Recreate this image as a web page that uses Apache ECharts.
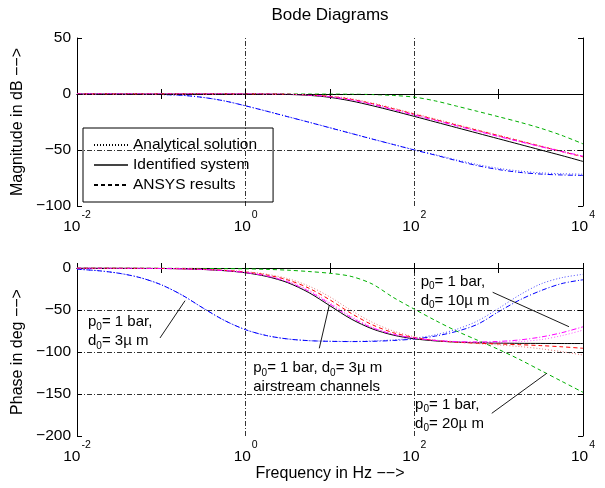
<!DOCTYPE html>
<html>
<head>
<meta charset="utf-8">
<script src="https://cdn.jsdelivr.net/npm/echarts@6/dist/echarts.min.js"></script>
<style>html,body{margin:0;padding:0;background:#fff}#chart{width:605px;height:488px}</style>
</head>
<body>
<div id="chart"></div>
<script>
// frequencies in Hz (quarter-decade steps)
var freq = [0.01, 0.0178, 0.0316, 0.0562, 0.1, 0.178, 0.316, 0.562, 1, 1.78, 3.16, 5.62, 10, 17.8, 31.6, 56.2, 100, 178, 316, 562, 1000, 1780, 3160, 5620, 10000];

// magnitude in dB
var magBlueDot  = [0, 0, -0.1, -0.3, -0.5, -1.2, -3.1, -6.2, -10.6, -15.3, -20.2, -25.1, -30.1, -35.1, -40.1, -45.0, -49.8, -54.2, -58.8, -63.0, -66.4, -68.8, -70.4, -71.2, -71.6];
var magBlueDash = [0, 0, -0.1, -0.3, -0.5, -1.2, -3.1, -6.2, -10.6, -15.4, -20.3, -25.2, -30.2, -35.2, -40.2, -45.1, -50.0, -54.6, -59.5, -64.0, -67.5, -70.0, -71.5, -72.3, -72.7];
var magGreen    = [0, 0, 0, 0, 0, 0, 0, 0, 0, 0, 0, -0.05, -0.1, -0.2, -0.5, -1.3, -2.8, -6.2, -10.8, -15.5, -20.3, -25.2, -30.6, -37.0, -44.5];
var magBlack    = [0, 0, 0, 0, 0, 0, 0, -0.01, -0.04, -0.14, -0.4, -1.2, -3.0, -6.2, -10.4, -15.1, -20.0, -25.0, -30.0, -35.0, -40.0, -45.0, -50.0, -55.0, -60.2];
var magRedDash  = [0, 0, 0, 0, 0, 0, 0, 0, -0.02, -0.08, -0.25, -0.8, -2.1, -4.7, -8.6, -13.2, -18.0, -22.9, -27.7, -32.5, -37.2, -42.0, -46.7, -51.4, -56.1];
var magRedDot   = [0, 0, 0, 0, 0, 0, 0, 0, -0.02, -0.06, -0.2, -0.6, -1.8, -4.2, -8.0, -12.6, -17.4, -22.3, -27.2, -32.0, -36.8, -41.6, -46.3, -51.0, -55.7];
var magMagDash  = [0, 0, 0, 0, 0, 0, 0, 0, -0.03, -0.1, -0.3, -0.95, -2.5, -5.3, -9.3, -14.0, -18.8, -23.6, -28.4, -33.2, -37.9, -42.5, -47.0, -51.3, -55.5];
var magMagDot   = [0, 0, 0, 0, 0, 0, 0, 0, -0.03, -0.1, -0.3, -0.9, -2.4, -5.1, -9.1, -13.8, -18.6, -23.5, -28.3, -33.1, -37.9, -42.6, -47.2, -51.7, -56.0];

// phase in degrees
var phBlueDot  = [-1.5, -3.2, -6.3, -11.5, -20, -32.5, -48, -62.5, -73.5, -80.5, -84.5, -86.5, -87.2, -87.4, -86.9, -85.6, -83.5, -79.5, -73, -63, -48, -32, -19, -11.5, -7.5];
var phBlueDash = [-1.5, -3.2, -6.3, -11.5, -20, -32.5, -48, -62.5, -73.5, -80.5, -84.5, -86.5, -87.3, -87.6, -87.3, -86.3, -84.5, -81, -75.5, -67, -52, -38, -27, -18.5, -14];
var phGreen    = [0, 0, -0.05, -0.1, -0.15, -0.3, -0.5, -0.7, -1.0, -1.6, -2.6, -4.2, -6.3, -10, -19, -35, -49, -62.5, -75, -86, -97, -109, -122, -135, -148];
var phBlack    = [-0.06, -0.1, -0.18, -0.32, -0.57, -1.0, -1.8, -3.2, -5.7, -10.1, -17.5, -29.3, -45, -60.7, -72.4, -79.9, -84.3, -86.8, -88.2, -89.0, -89.4, -89.7, -89.8, -89.9, -89.9];
var phRedDash  = [-0.05, -0.09, -0.16, -0.28, -0.5, -0.9, -1.6, -2.8, -4.8, -8.3, -14.2, -24, -38, -54, -67.5, -77, -82.8, -86.3, -88.3, -89.5, -90.4, -91.3, -92.4, -93.8, -95.6];
var phRedDot   = [-0.05, -0.08, -0.14, -0.25, -0.45, -0.8, -1.4, -2.5, -4.3, -7.4, -12.6, -21.5, -34.5, -50.5, -64.5, -75, -81.8, -85.8, -88.3, -90, -91.6, -93.5, -96.2, -99.6, -103.6];
var phMagDash  = [-0.06, -0.1, -0.18, -0.32, -0.56, -1.0, -1.8, -3.1, -5.5, -9.6, -16.6, -27.8, -43, -59, -71.2, -79, -83.5, -86.2, -87.6, -88, -87.4, -85.6, -82.2, -77, -70];
var phMagDot   = [-0.06, -0.1, -0.17, -0.3, -0.53, -0.95, -1.7, -3.0, -5.2, -9.1, -15.8, -26.5, -41.5, -57.5, -70.3, -78.5, -83.3, -86.2, -87.8, -88.6, -88.6, -87.6, -85.3, -80.5, -74];

var legendNames = ['Analytical solution', 'Identified system', 'ANSYS results'];
var magGrid = [0, -50];
var phaseGrid = [-50, -100, -150];
var freqGrid = [1, 100];

var ff = '"Liberation Sans", Arial, Helvetica, sans-serif';
var DOT = [1, 2], DASH = [4, 3], DASHDOT = [5, 2, 1, 2];

var chart = echarts.init(document.getElementById('chart'));

function curve(y, color, dash, g) {
  return {
    type: 'line', xAxisIndex: g * 2, yAxisIndex: g * 2,
    data: freq.map(function (f, i) { return [f, y[i]]; }),
    symbol: 'none', showSymbol: false, smooth: 0.3, silent: true, z: 3,
    lineStyle: { color: color, width: 1, type: dash }
  };
}

function xAxis(g, pos, labels, name) {
  return {
    type: 'log', logBase: 10, min: 0.01, max: 10000, gridIndex: g, position: pos,
    name: name || '', nameLocation: 'middle', nameGap: 30,
    nameTextStyle: { fontSize: 16, color: '#000', fontFamily: ff },
    axisLine: { show: true, lineStyle: { color: '#000', width: 1 } },
    axisTick: { show: true, inside: true, length: 5, lineStyle: { color: '#000' } },
    splitLine: { show: false },
    axisLabel: {
      show: labels, margin: 4, color: '#000', fontFamily: ff,
      formatter: function (v) {
        var e = Math.round(Math.log(v) / Math.LN10);
        if (e % 2 !== 0) return '';
        return '{b|10}{s|' + (e < 0 ? '-' : '') + Math.abs(e) + '}';
      },
      rich: {
        b: { fontSize: 15.5, lineHeight: 25, verticalAlign: 'bottom', fontFamily: ff, color: '#000' },
        s: { fontSize: 10.5, lineHeight: 11, verticalAlign: 'top', padding: [0, 0, 0, 1], fontFamily: ff, color: '#000' }
      }
    }
  };
}

function yAxis(g, pos, min, max, labels, name) {
  return {
    type: 'value', gridIndex: g, position: pos, min: min, max: max, interval: 50,
    name: name || '', nameLocation: 'middle', nameGap: 42,
    nameTextStyle: { fontSize: 16, color: '#000', fontFamily: ff },
    axisLine: { show: true, lineStyle: { color: '#000', width: 1 } },
    axisTick: { show: true, inside: true, length: 5, lineStyle: { color: '#000' } },
    splitLine: { show: false },
    axisLabel: {
      show: labels, margin: 6, fontSize: 15.5, color: '#000', fontFamily: ff,
      formatter: function (v) { return String(v).replace('-', '\u2212'); }
    }
  };
}

var gridStyle = { color: '#000', width: 0.8, type: DASHDOT };
function gridLines(g, yVals) {
  var d = freqGrid.map(function (f) { return { xAxis: f }; })
    .concat(yVals.map(function (v) { return { yAxis: v }; }));
  return {
    type: 'line', xAxisIndex: g * 2, yAxisIndex: g * 2, data: [], z: 1, silent: true,
    markLine: { silent: true, symbol: ['none', 'none'], label: { show: false }, lineStyle: gridStyle, data: d, animation: false }
  };
}

// annotations on the phase plot (data coordinates)
var sub = function (t) { return '{s|' + t + '}'; };
var notes = [
  { at: [0.0135, -76], text: '{t|p}' + sub('0') + '{t|= 1 bar,}\n{t|d}' + sub('0') + '{t|= 3\u00b5 m}' },
  { at: [1.23, -130.7], text: '{t|p}' + sub('0') + '{t|= 1 bar, d}' + sub('0') + '{t|= 3\u00b5 m}\n{t|airstream channels}' },
  { at: [119, -27.6], text: '{t|p}' + sub('0') + '{t|= 1 bar,}\n{t|d}' + sub('0') + '{t|= 10\u00b5 m}' },
  { at: [102, -174], text: '{t|p}' + sub('0') + '{t|= 1 bar,}\n{t|d}' + sub('0') + '{t|= 20\u00b5 m}' }
];
var leaders = [
  [[0.0964, -83.3], [0.191, -38.9]],
  [[7.46, -95.6], [9.82, -44]],
  [[849, -28.9], [6820, -69.9]],
  [[828, -173], [3715, -125.4]]
];

var annoSeries = {
  type: 'line', xAxisIndex: 2, yAxisIndex: 2, data: [], z: 5, silent: true,
  markLine: {
    silent: true, symbol: ['none', 'none'], label: { show: false }, animation: false,
    lineStyle: { color: '#000', width: 0.9, type: 'solid' },
    data: leaders.map(function (l) { return [{ coord: l[0] }, { coord: l[1] }]; })
  },
  markPoint: {
    silent: true, animation: false, symbol: 'circle', symbolSize: 0,
    itemStyle: { color: 'transparent' },
    label: {
      show: true, position: [0, 0], align: 'left', verticalAlign: 'middle',
      formatter: function (p) { return p.data.text; },
      rich: {
        t: { fontSize: 15, lineHeight: 19, color: '#000', fontFamily: ff },
        s: { fontSize: 10, lineHeight: 13, verticalAlign: 'bottom', color: '#000', fontFamily: ff }
      }
    },
    data: notes.map(function (n) { return { coord: n.at, text: n.text }; })
  }
};

var legendSeries = [
  { name: legendNames[0], color: '#000', type: DOT, width: 1 },
  { name: legendNames[1], color: '#444', type: 'solid', width: 2 },
  { name: legendNames[2], color: '#000', type: DASH, width: 1 }
].map(function (l) {
  return { name: l.name, type: 'line', xAxisIndex: 0, yAxisIndex: 0, data: [], symbol: 'none',
    itemStyle: { color: l.color }, lineStyle: { color: l.color, type: l.type, width: l.width } };
});

var option = {
  animation: false,
  backgroundColor: '#fff',
  title: {
    text: 'Bode Diagrams', left: 330, top: 7, textAlign: 'center', padding: 0,
    textStyle: { fontSize: 17, fontWeight: 'normal', color: '#000', fontFamily: ff }
  },
  legend: {
    data: legendNames, orient: 'vertical', left: 83, top: 128,
    padding: [9, 16, 9, 10], itemGap: 4, itemWidth: 34, itemHeight: 14,
    backgroundColor: '#fff', borderColor: '#000', borderWidth: 1, borderRadius: 0,
    selectedMode: false,
    itemStyle: { opacity: 0, borderWidth: 0 },
    textStyle: { fontSize: 15.5, color: '#000', fontFamily: ff }
  },
  grid: [
    { left: 77, right: 22, top: 38, height: 168, outerBoundsMode: 'none' },
    { left: 77, right: 22, top: 268, height: 168, outerBoundsMode: 'none' }
  ],
  xAxis: [
    xAxis(0, 'bottom', true),
    xAxis(0, 'top', false),
    xAxis(1, 'bottom', true, 'Frequency in Hz \u2212\u2212>'),
    xAxis(1, 'top', false)
  ],
  yAxis: [
    yAxis(0, 'left', -100, 50, true, 'Magnitude in dB \u2212\u2212>'),
    yAxis(0, 'right', -100, 50, false),
    yAxis(1, 'left', -200, 0, true, 'Phase in deg \u2212\u2212>'),
    yAxis(1, 'right', -200, 0, false)
  ],
  series: [
    gridLines(0, magGrid),
    gridLines(1, phaseGrid),
    curve(magBlueDot, '#4a4aff', DOT, 0),
    curve(magBlueDash, '#0000ff', DASHDOT, 0),
    curve(magGreen, '#00b000', DASH, 0),
    curve(magBlack, '#000', 'solid', 0),
    curve(magRedDot, '#e07a7a', DOT, 0),
    curve(magRedDash, '#ff0000', DASH, 0),
    curve(magMagDot, '#ff55ff', DOT, 0),
    curve(magMagDash, '#ff00ff', DASHDOT, 0),
    curve(phBlueDot, '#4a4aff', DOT, 1),
    curve(phBlueDash, '#0000ff', DASHDOT, 1),
    curve(phGreen, '#00b000', DASH, 1),
    curve(phBlack, '#000', 'solid', 1),
    curve(phRedDot, '#e07a7a', DOT, 1),
    curve(phRedDash, '#ff0000', DASH, 1),
    curve(phMagDot, '#ff55ff', DOT, 1),
    curve(phMagDash, '#ff00ff', DASHDOT, 1),
    annoSeries
  ].concat(legendSeries)
};

chart.setOption(option);
</script>
</body>
</html>
